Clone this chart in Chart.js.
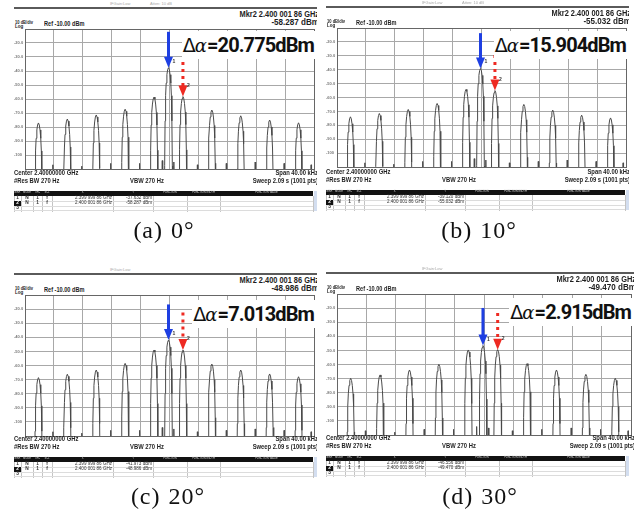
<!DOCTYPE html>
<html>
<head>
<meta charset="utf-8">
<script src="https://cdn.jsdelivr.net/npm/chart.js@4.4.1/dist/chart.umd.min.js"></script>
<style>
  html, body { margin: 0; padding: 0; background: #fff; }
  #page { position: relative; width: 641px; height: 515px; overflow: hidden; background: #fff; }
  .clip { position: absolute; overflow: hidden; }
  .t { position: absolute; white-space: nowrap; line-height: 1; color: #1e1e1e;
       font-family: 'Liberation Sans', Arial, sans-serif; font-weight: bold; }
  .cap { position: absolute; white-space: nowrap; line-height: 1; color: #111;
         font-family: 'Liberation Serif', 'Times New Roman', serif; letter-spacing: 1px; word-spacing: 1px; }
  .delta { position: absolute; white-space: nowrap; line-height: 1; text-align: right; }
  .delta span.in { background: #fff; padding: 2px 1px; color: #111;
       font-family: Roboto, 'Noto Sans', sans-serif; font-weight: bold; font-size: 20px; letter-spacing: -0.9px; }
  .delta .dl { font-family: 'DejaVu Sans', sans-serif; font-weight: normal; font-size: 19px; }
  .delta .al { font-family: 'DejaVu Serif', serif; font-style: italic; font-weight: normal; font-size: 18px; margin-right: 1px; }
</style>
</head>
<body>
<div id="page"></div>
<script>
// spectrum traces: carrier near -0.14 kHz with tones every 4 kHz around it
const PEAK_KHZ = [-18.14, -14.14, -10.14, -6.14, -2.14, -0.14, 1.86, 5.86, 9.86, 13.86, 17.86];
const PEAKS_0DEG  = [-77.1, -74.3, -71.4, -67.3, -58.6, -37.632, -58.287, -67.9, -72.0, -75.0, -77.0];
const PEAKS_10DEG = [-73.9, -71.5, -68.6, -64.3, -54.2, -39.120, -55.032, -65.0, -69.1, -72.7, -74.7];
const PEAKS_20DEG = [-68.6, -66.2, -63.2, -58.5, -49.0, -41.973, -48.986, -59.0, -63.2, -66.0, -68.0];
const PEAKS_30DEG = [-69.8, -67.4, -63.9, -59.9, -49.7, -46.556, -49.470, -59.4, -63.9, -67.0, -69.8];

// shape of one spike (offset from its top, fall below its top)
const SHAPE_KHZ  = [-0.6, -0.53, -0.47, -0.4, -0.32, -0.22, -0.12, 0, 0.12, 0.22, 0.32, 0.4, 0.47, 0.53, 0.6];
const SHAPE_DROP = [100, 70, 38, 20, 11, 5, 1.5, 0, 1.5, 5, 11, 20, 38, 70, 100];

// small spurs poking up from the noise floor
const SPUR_KHZ = [-16.14, -12.14, -8.14, -4.14, -1.0, 0.6, 3.86, 7.86, 11.86, 15.86, 19.6];
const SPUR_DBM = [-107, -108, -106, -106, -104, -105, -107, -106, -105, -106, -107];
const FLOOR_DBM = -125;

const SERIES = [PEAKS_0DEG, PEAKS_10DEG, PEAKS_20DEG, PEAKS_30DEG];
const DELTA_TEXT = ['20.775', '15.904', '7.013', '2.915'];
const CAPTIONS = ['(a) 0°', '(b) 10°', '(c) 20°', '(d) 30°'];
const MARKER_X_TEXT = ['2.399 999 86 GHz', '2.400 001 86 GHz'];
const TABLE_HEADERS = ['MKR', 'MODE', 'TRC', 'SCL', 'X', 'Y', 'FUNCTION', 'FUNCTION WIDTH', 'FUNCTION VALUE'];

// where each screenshot sits on the page (plot box) and where its extras go
const LAYOUT = [
    { px: 25,  py: 29,  pw: 289, ph: 140, deltaR: 315, deltaCy: 46,  blueTop: -12,   redTop: -33.6, capX: 164, capCy: 230 },
    { px: 337, py: 28,  pw: 289, ph: 139, deltaR: 627, deltaCy: 46,  blueTop: -13.7, redTop: -29.4, capX: 479, capCy: 230 },
    { px: 25,  py: 295, pw: 289, ph: 141, deltaR: 315, deltaCy: 315, blueTop: -16.7, redTop: -22.4, capX: 168, capCy: 496 },
    { px: 337, py: 294, pw: 294, ph: 141, deltaR: 632, deltaCy: 313, blueTop: -19.9, redTop: -23.5, capX: 480, capCy: 496 }
];
const COLS_REL = [-11, -4, 8, 17, 27, 88, 128, 162, 195, 288];

const pageEl = document.getElementById('page');

function el(parent, cls, css) {
    const d = document.createElement('div');
    if (cls) d.className = cls;
    d.style.position = 'absolute';
    Object.assign(d.style, css || {});
    parent.appendChild(d);
    return d;
}

function text(parent, org, str, x, cy, size, opt) {
    opt = opt || {};
    const d = el(parent, opt.cls || 't');
    d.textContent = str;
    d.style.fontSize = size + 'px';
    if (opt.weight) d.style.fontWeight = opt.weight;
    if (opt.color) d.style.color = opt.color;
    d.style.top = (cy - org.y - size * 0.48) + 'px';
    const align = opt.align || 'left';
    if (align === 'left') {
        d.style.left = (x - org.x) + 'px';
    } else if (align === 'right') {
        d.style.left = (x - org.x - 600) + 'px';
        d.style.width = '600px';
        d.style.textAlign = 'right';
    } else {
        d.style.left = (x - org.x - 300) + 'px';
        d.style.width = '600px';
        d.style.textAlign = 'center';
    }
    d.style.transformOrigin = align + ' center';
    if (opt.sx) d.style.transform = `scaleX(${opt.sx})`;
    return d;
}

function buildTrace(levels) {
    const pts = [];
    PEAK_KHZ.forEach((f, i) => {
        SHAPE_KHZ.forEach((o, j) => pts.push({ x: f + o, y: levels[i] - SHAPE_DROP[j] }));
    });
    SPUR_KHZ.forEach((f, i) => {
        pts.push({ x: f - 0.06, y: FLOOR_DBM }, { x: f, y: SPUR_DBM[i] }, { x: f + 0.06, y: FLOOR_DBM });
    });
    pts.push({ x: -20, y: FLOOR_DBM }, { x: 20, y: FLOOR_DBM });
    return pts.sort((a, b) => a.x - b.x);
}

function drawArrow(ctx, x, yTop, yTip, color, dotted) {
    ctx.save();
    ctx.strokeStyle = color;
    ctx.fillStyle = color;
    ctx.lineWidth = 3;
    if (dotted) ctx.setLineDash([3, 4]);
    ctx.beginPath();
    ctx.moveTo(x, yTop);
    ctx.lineTo(x, yTip - 10);
    ctx.stroke();
    ctx.setLineDash([]);
    ctx.beginPath();
    ctx.moveTo(x - 4.5, yTip - 11);
    ctx.lineTo(x + 4.5, yTip - 11);
    ctx.lineTo(x, yTip);
    ctx.closePath();
    ctx.fill();
    ctx.restore();
}

const markerArrows = {
    id: 'markerArrows',
    afterDatasetsDraw(chart, args, opts) {
        const { ctx } = chart;
        const xs = chart.scales.x, ys = chart.scales.y;
        const x1 = xs.getPixelForValue(opts.m1[0]), y1 = ys.getPixelForValue(opts.m1[1]);
        const x2 = xs.getPixelForValue(opts.m2[0]), y2 = ys.getPixelForValue(opts.m2[1]);
        ctx.save();
        ctx.fillStyle = '#333';
        ctx.font = 'bold 5px "Liberation Sans", Arial, sans-serif';
        ctx.fillText('1', x1 + 4, y1 - 5);
        ctx.fillText('2', x2 + 4, y2 - 10);
        ctx.restore();
        drawArrow(ctx, x1, ys.getPixelForValue(opts.blueTop), y1, '#1e3fe2', false);
        drawArrow(ctx, x2, ys.getPixelForValue(opts.redTop), y2, '#ee2a22', true);
    }
};

function gridColor(edge) {
    return (c) => (c.tick && c.tick.value === edge ? '#666' : '#a8a8a8');
}

function buildPanel(i) {
    const L = LAYOUT[i];
    const levels = SERIES[i];
    const org = { x: L.px - 12, y: L.py - 29 };
    const right = L.px + L.pw;
    const clip = el(pageEl, 'clip', {
        left: org.x + 'px', top: org.y + 'px',
        width: (L.pw + 15) + 'px', height: (29 + 183) + 'px'
    });

    // faint status line and frame of the instrument screen
    text(clip, org, 'IFGain:Low', L.px + 85, L.py - 25, 4, { color: '#aaa', weight: 'normal' });
    if (i < 2) text(clip, org, 'Atten: 10 dB', L.px + 125, L.py - 25, 4, { color: '#aaa', weight: 'normal' });
    el(clip, null, { left: (L.px - 11 - org.x) + 'px', top: (L.py - 22 - org.y) + 'px',
        width: (L.pw + 14) + 'px', height: '2px', background: '#5a5a5a' });

    text(clip, org, 'Mkr2 ' + MARKER_X_TEXT[1], right + 5, L.py - 15.5, 9.5, { align: 'right', sx: 0.78 });
    text(clip, org, levels[6].toFixed(3) + ' dBm', right + 5, L.py - 7, 9.5, { align: 'right', sx: 0.85 });
    text(clip, org, '10 dB/div', L.px - 10, L.py - 5.5, 4.5, { sx: 0.9 });
    text(clip, org, 'Ref -10.00 dBm', L.px + 19, L.py - 5.5, 7, { sx: 0.8 });
    text(clip, org, 'Log', L.px - 10, L.py - 1.5, 4.5);

    // chart canvas: y axis strip of 11 px on the left, plot box at (px, py)
    const W = 11 + L.pw + 4, H = L.ph + 8;
    const cv = document.createElement('canvas');
    cv.width = W;
    cv.height = H;
    Object.assign(cv.style, { position: 'absolute', left: (L.px - 11 - org.x) + 'px',
        top: (L.py - 4 - org.y) + 'px', width: W + 'px', height: H + 'px' });
    clip.appendChild(cv);

    new Chart(cv, {
        type: 'line',
        data: {
            datasets: [{
                data: buildTrace(levels),
                borderColor: '#4a4a4a',
                borderWidth: 1,
                pointRadius: 0,
                tension: 0,
                fill: false
            }]
        },
        options: {
            responsive: false,
            animation: false,
            events: [],
            layout: { padding: { left: 0, right: 4, top: 4, bottom: 4 } },
            plugins: {
                legend: { display: false },
                tooltip: { enabled: false },
                markerArrows: {
                    m1: [PEAK_KHZ[5], levels[5]],
                    m2: [PEAK_KHZ[6], levels[6]],
                    blueTop: L.blueTop,
                    redTop: L.redTop
                }
            },
            scales: {
                x: {
                    type: 'linear', min: -20, max: 20,
                    ticks: { stepSize: 4, display: false },
                    grid: { color: gridColor(20), drawTicks: false },
                    border: { color: '#666' },
                    afterFit: (s) => { s.height = 0; }
                },
                y: {
                    min: -110, max: -10,
                    ticks: {
                        stepSize: 10, padding: 0, crossAlign: 'far', color: '#777',
                        font: { size: 4, weight: 'bold', family: '"Liberation Sans", Arial, sans-serif' },
                        callback: (v) => (v === -10 || v === -110 ? '' : (v <= -100 ? String(v) : v.toFixed(1)))
                    },
                    grid: { color: gridColor(-10), drawTicks: false },
                    border: { color: '#666' },
                    afterFit: (s) => { s.width = 11; }
                }
            }
        },
        plugins: [markerArrows]
    });

    // delta annotation pasted on top
    const dbox = el(clip, 'delta', { left: (L.deltaR - org.x - 300) + 'px', width: '300px',
        top: (L.deltaCy - org.y - 11) + 'px' });
    dbox.innerHTML = '<span class="in"><span class="dl">Δ</span><span class="al">α</span>=' +
        DELTA_TEXT[i] + 'dBm</span>';

    // footer lines
    text(clip, org, 'Center 2.40000000 GHz', L.px - 11, L.py + 144, 6.5, { sx: 0.9 });
    text(clip, org, 'Span 40.00 kHz', right + 4, L.py + 144, 6.5, { align: 'right', sx: 0.9 });
    text(clip, org, '#Res BW 270 Hz', L.px - 11, L.py + 152.5, 6.5, { sx: 0.9 });
    text(clip, org, 'VBW 270 Hz', L.px + 105, L.py + 152.5, 6.5, { sx: 0.9 });
    text(clip, org, 'Sweep  2.09 s (1001 pts)', right + 4, L.py + 152.5, 6.5, { align: 'right', sx: 0.9 });

    // marker table
    const cols = COLS_REL.map((c) => L.px + c);
    const hTop = L.py + 162, hBot = L.py + 167;
    el(clip, null, { left: (cols[0] - org.x) + 'px', top: (hTop - org.y) + 'px',
        width: (cols[9] - cols[0]) + 'px', height: (hBot - hTop) + 'px', background: '#121212' });
    TABLE_HEADERS.forEach((h, k) => {
        text(clip, org, h, (cols[k] + cols[k + 1]) / 2, hTop + 2.5, 2.6, { align: 'center', color: '#ddd', weight: 'normal' });
    });
    el(clip, null, { left: (cols[9] + 1 - org.x) + 'px', top: (hTop - org.y) + 'px',
        width: '3px', height: '20px', background: '#d3def0' });
    for (let k = 0; k < cols.length; k++) {
        el(clip, null, { left: (cols[k] - org.x) + 'px', top: (hBot - org.y) + 'px',
            width: '1px', height: '16px', background: '#c4c4c4' });
    }
    const rowH = 4.8;
    for (let r = 0; r < 3; r++) {
        const top = hBot + r * rowH;
        el(clip, null, { left: (cols[0] - org.x) + 'px', top: (top + rowH - org.y) + 'px',
            width: (cols[9] - cols[0]) + 'px', height: '1px', background: '#dcdcdc' });
        const cy = top + rowH / 2 + 0.2;
        if (r === 1) {
            el(clip, null, { left: (cols[0] - org.x) + 'px', top: (top + 0.5 - org.y) + 'px',
                width: (cols[1] - cols[0]) + 'px', height: (rowH) + 'px', background: '#111' });
        }
        text(clip, org, String(r + 1), (cols[0] + cols[1]) / 2, cy, 4.8,
            { align: 'center', color: r === 1 ? '#fff' : '#333' });
        if (r < 2) {
            text(clip, org, 'N', (cols[1] + cols[2]) / 2, cy, 4.8, { align: 'center', color: '#333' });
            text(clip, org, '1', (cols[2] + cols[3]) / 2, cy, 4.8, { align: 'center', color: '#333' });
            text(clip, org, 'f', (cols[3] + cols[4]) / 2, cy, 4.8, { align: 'center', color: '#333' });
            text(clip, org, MARKER_X_TEXT[r], cols[5] - 1, cy, 4.8, { align: 'right', color: '#333', weight: 'normal', sx: 0.95 });
            text(clip, org, levels[5 + r].toFixed(3) + ' dBm', cols[6] - 1, cy, 4.8, { align: 'right', color: '#333', weight: 'normal', sx: 0.95 });
        }
    }

    // caption under the screenshot
    text(pageEl, { x: 0, y: 0 }, CAPTIONS[i], L.capX, L.capCy, 24, { cls: 'cap', align: 'center' });
}

for (let i = 0; i < 4; i++) buildPanel(i);
</script>
</body>
</html>
